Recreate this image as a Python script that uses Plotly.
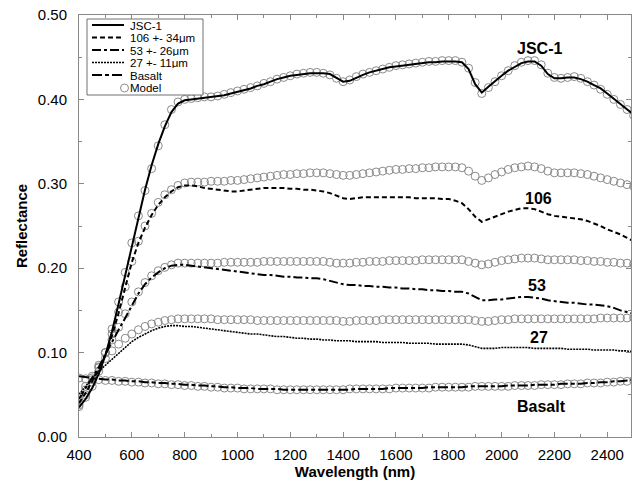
import plotly.graph_objects as go

wavelength = list(range(400, 2501, 25))

jsc_line = [.035,.045,.058,.075,.097,.125,.158,.192,
            .228,.262,.293,.322,.347,.368,.385,.395,
            .399,.400,.401,.402,.403,.404,.405,.407,
            .409,.411,.413,.416,.418,.421,.424,.426,
            .428,.429,.430,.431,.431,.431,.430,.426,
            .421,.422,.426,.429,.432,.434,.436,.438,
            .439,.440,.441,.442,.443,.444,.444,.445,
            .445,.445,.444,.436,.418,.408,.415,.422,
            .428,.434,.439,.443,.445,.445,.440,.430,
            .425,.425,.426,.426,.424,.421,.417,.413,
            .407,.401,.395,.389,.382]
jsc_model = [.036,.047,.060,.078,.100,.128,.160,.195,
             .230,.262,.292,.318,.345,.370,.388,.397,
             .400,.401,.402,.403,.403,.404,.406,.408,
             .410,.412,.414,.416,.419,.421,.424,.426,
             .428,.430,.431,.432,.432,.431,.429,.425,
             .421,.423,.427,.430,.432,.434,.436,.438,
             .440,.441,.442,.443,.444,.445,.445,.446,
             .446,.446,.444,.437,.420,.407,.414,.421,
             .428,.434,.440,.444,.446,.446,.441,.431,
             .426,.425,.426,.427,.425,.421,.417,.412,
             .406,.400,.394,.388,.381]
g106_line = [.040,.052,.066,.080,.097,.120,.147,.177,
             .207,.230,.248,.263,.275,.284,.291,.296,
             .298,.298,.297,.295,.294,.293,.292,.291,
             .291,.292,.293,.294,.295,.295,.295,.295,
             .294,.294,.293,.293,.292,.291,.289,.286,
             .283,.282,.283,.284,.284,.284,.284,.284,
             .284,.284,.284,.283,.283,.283,.283,.282,
             .282,.280,.277,.270,.261,.255,.258,.261,
             .264,.267,.269,.271,.271,.270,.267,.264,
             .262,.261,.260,.259,.258,.256,.253,.250,
             .246,.243,.240,.236,.232]
g106_model = [.038,.050,.065,.082,.100,.122,.148,.178,
              .208,.232,.250,.265,.278,.287,.293,.298,
              .301,.302,.302,.302,.303,.303,.303,.304,
              .304,.305,.306,.307,.308,.309,.310,.311,
              .311,.312,.312,.313,.313,.313,.312,.311,
              .310,.310,.311,.312,.313,.314,.315,.316,
              .317,.317,.318,.318,.319,.319,.320,.320,
              .320,.320,.319,.315,.309,.304,.307,.311,
              .314,.317,.319,.320,.321,.320,.318,.315,
              .313,.313,.313,.313,.312,.311,.309,.307,
              .305,.303,.301,.299,.297]
g53_line = [.045,.058,.070,.083,.098,.113,.127,.141,
            .156,.170,.181,.189,.195,.200,.203,.204,
            .204,.203,.202,.201,.200,.199,.198,.197,
            .196,.195,.194,.193,.192,.192,.191,.190,
            .190,.189,.189,.188,.188,.187,.185,.183,
            .181,.180,.180,.179,.179,.178,.178,.177,
            .177,.176,.176,.175,.175,.174,.174,.173,
            .173,.172,.172,.170,.166,.162,.162,.163,
            .163,.164,.165,.166,.166,.165,.164,.162,
            .161,.160,.159,.159,.158,.157,.157,.156,
            .155,.153,.150,.148,.146]
g53_model = [.043,.056,.070,.085,.100,.115,.130,.146,
             .160,.172,.183,.191,.197,.201,.204,.206,
             .206,.206,.206,.206,.206,.206,.207,.207,
             .207,.207,.207,.207,.208,.208,.208,.208,
             .208,.208,.208,.208,.208,.208,.207,.206,
             .206,.206,.207,.207,.208,.208,.208,.209,
             .209,.209,.209,.209,.210,.210,.210,.210,
             .210,.210,.210,.208,.206,.204,.205,.207,
             .209,.210,.211,.212,.212,.212,.211,.210,
             .210,.210,.210,.210,.209,.209,.208,.208,
             .207,.207,.206,.206,.205]
g27_line = [.050,.060,.070,.078,.085,.092,.100,.107,
            .113,.118,.122,.126,.129,.131,.132,.132,
            .131,.131,.130,.129,.128,.127,.126,.125,
            .124,.123,.122,.122,.121,.120,.119,.119,
            .118,.117,.117,.116,.116,.115,.115,.114,
            .114,.114,.113,.113,.113,.113,.112,.112,
            .112,.112,.111,.111,.111,.111,.110,.110,
            .110,.110,.110,.109,.107,.105,.105,.105,
            .106,.106,.106,.106,.106,.105,.105,.105,
            .105,.105,.104,.104,.104,.104,.103,.103,
            .103,.103,.102,.102,.101]
g27_model = [.048,.060,.072,.083,.093,.102,.110,.117,
             .122,.127,.131,.134,.136,.138,.139,.140,
             .140,.140,.140,.140,.140,.139,.139,.139,
             .139,.139,.139,.138,.138,.138,.138,.138,
             .138,.138,.138,.138,.138,.138,.138,.138,
             .137,.137,.138,.138,.138,.138,.139,.139,
             .139,.139,.139,.139,.139,.139,.139,.139,
             .139,.139,.139,.139,.138,.137,.137,.138,
             .139,.139,.140,.140,.140,.140,.140,.140,
             .140,.140,.140,.140,.140,.140,.140,.141,
             .141,.141,.141,.141,.141]
basalt_line = [.072,.071,.070,.069,.068,.068,.067,.067,
               .066,.066,.065,.065,.064,.064,.063,.063,
               .062,.062,.061,.061,.060,.060,.059,.059,
               .058,.058,.058,.057,.057,.057,.057,.056,
               .056,.056,.056,.056,.056,.056,.056,.056,
               .056,.056,.057,.057,.057,.057,.057,.058,
               .058,.058,.058,.058,.058,.059,.059,.059,
               .059,.059,.059,.060,.060,.060,.060,.060,
               .060,.061,.061,.061,.061,.062,.062,.062,
               .062,.063,.063,.063,.063,.064,.064,.065,
               .065,.066,.066,.067,.068]
basalt_model = [.070,.069,.068,.068,.067,.067,.066,.066,
                .065,.065,.064,.064,.063,.063,.062,.062,
                .061,.061,.060,.060,.059,.059,.058,.058,
                .058,.057,.057,.057,.057,.057,.056,.056,
                .056,.056,.056,.056,.056,.056,.056,.056,
                .056,.057,.057,.057,.057,.057,.057,.057,
                .058,.058,.058,.058,.058,.058,.059,.059,
                .059,.059,.059,.059,.060,.060,.060,.060,
                .060,.060,.061,.061,.061,.061,.062,.062,
                .062,.062,.063,.063,.063,.064,.064,.064,
                .065,.065,.066,.066,.067]

series_names = ["JSC-1", "106 +- 34\u03bcm", "53 +- 26\u03bcm", "27 +- 11\u03bcm", "Basalt"]
series_lines = [jsc_line, g106_line, g53_line, g27_line, basalt_line]
series_models = [jsc_model, g106_model, g53_model, g27_model, basalt_model]
series_dash = ["solid", "5px,3px", "9px,3px,3px,3px", "2px,1px", "10px,3px,4px,3px"]
series_width = [2, 2, 2, 1.6, 2]

label_text = ["JSC-1", "106", "53", "27", "Basalt"]
label_x = [2143, 2140, 2134, 2140, 2151]
label_y = [0.460, 0.282, 0.179, 0.118, 0.036]

FONT = "Liberation Sans, Arial, Helvetica, sans-serif"
CIRCLE = "#8a8a8a"
AXIS = "#8a8a8a"

fig = go.Figure()
for name, m in zip(series_names, series_models):
    fig.add_trace(go.Scatter(
        x=wavelength, y=m, mode="markers", name="Model " + name, showlegend=False,
        marker=dict(symbol="circle-open", size=8, color=CIRCLE, line=dict(width=1, color=CIRCLE))))
for name, l, d, w in zip(series_names, series_lines, series_dash, series_width):
    fig.add_trace(go.Scatter(
        x=wavelength, y=l, mode="lines", name=name, showlegend=False,
        line=dict(color="black", width=w, dash=d)))

# the page body margin is removed (see post_script), so the figure fills the window
W, H = 632, 480
PLOT_L, PLOT_R, PLOT_T, PLOT_B = 79, 631, 15, 437   # window pixels
L, R, T, B = PLOT_L, W - PLOT_R, PLOT_T, H - PLOT_B
PW, PH = W - L - R, H - T - B
def px(xp):
    return (xp - PLOT_L) / PW
def py(yp):
    return (PLOT_B - yp) / PH

shapes = []
annotations = []
# manual compact legend
shapes.append(dict(type="rect", xref="paper", yref="paper",
                   x0=px(87), x1=px(203), y0=py(95), y1=py(19),
                   line=dict(color="#707070", width=1), fillcolor="white", layer="above"))
legend_rows = [25, 37.5, 50, 62.5, 75, 88]
for i, name in enumerate(series_names):
    yy = py(legend_rows[i])
    shapes.append(dict(type="line", xref="paper", yref="paper",
                       x0=px(92), x1=px(124), y0=yy, y1=yy, layer="above",
                       line=dict(color="black", width=series_width[i], dash=series_dash[i])))
    annotations.append(dict(xref="paper", yref="paper", x=px(129), y=yy, text=name,
                            showarrow=False, xanchor="left", yanchor="middle",
                            borderpad=0, height=11,
                            font=dict(family=FONT, size=11.5, color="black")))
ym = py(legend_rows[5])
shapes.append(dict(type="circle", xref="paper", yref="paper",
                   x0=px(120.5), x1=px(128.5), y0=ym - 4 / PH, y1=ym + 4 / PH, layer="above",
                   line=dict(color=CIRCLE, width=1)))
annotations.append(dict(xref="paper", yref="paper", x=px(129), y=ym, text="Model",
                        showarrow=False, xanchor="left", yanchor="middle",
                        borderpad=0, height=11,
                        font=dict(family=FONT, size=11.5, color="black")))

for t, x, y in zip(label_text, label_x, label_y):
    annotations.append(dict(x=x, y=y, text="<b>" + t + "</b>", showarrow=False,
                            xanchor="center", yanchor="middle",
                            font=dict(family=FONT, size=16, color="black")))

fig.update_layout(
    width=W, height=H, margin=dict(l=L, r=R, t=T, b=B, autoexpand=False),
    plot_bgcolor="white", paper_bgcolor="white",
    font=dict(family=FONT, size=15, color="black"),
    shapes=shapes, annotations=annotations, showlegend=False,
)
fig.update_xaxes(
    range=[400, 2490], dtick=200, tick0=400, ticks="inside", ticklen=5, tickcolor=AXIS,
    showline=True, linecolor=AXIS, linewidth=1, mirror="ticks", showgrid=False, zeroline=False,
    minor=dict(dtick=100, ticks="inside", ticklen=3, tickcolor=AXIS, showgrid=False),
    tickfont=dict(family=FONT, size=15, color="black"), ticklabelstandoff=4,
    ticklabeloverflow="allow",
    title=dict(text="<b>Wavelength (nm)</b>", font=dict(family=FONT, size=15, color="black"), standoff=3),
    automargin=False,
)
fig.update_yaxes(
    range=[0, 0.5], dtick=0.1, tick0=0, tickformat=".2f", ticks="inside", ticklen=5, tickcolor=AXIS,
    showline=True, linecolor=AXIS, linewidth=1, mirror="ticks", showgrid=False, zeroline=False,
    minor=dict(dtick=0.05, ticks="inside", ticklen=3, tickcolor=AXIS, showgrid=False),
    tickfont=dict(family=FONT, size=15, color="black"), ticklabelstandoff=8,
    ticklabeloverflow="allow",
    title=dict(text="<b>Reflectance</b>", font=dict(family=FONT, size=15, color="black"), standoff=6),
    automargin=False,
)

fig.write_html("out.html", config={"displayModeBar": False},
               post_script="document.body.style.margin='0';document.body.style.overflow='hidden';")
